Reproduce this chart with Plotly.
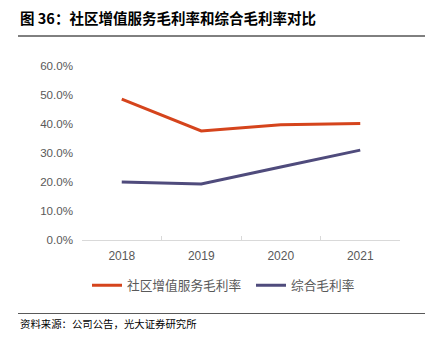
import plotly.graph_objects as go

years = ["2018", "2019", "2020", "2021"]
community_margin = [0.486, 0.376, 0.397, 0.402]
overall_margin = [0.200, 0.193, 0.252, 0.310]
series_names = ["社区增值服务毛利率", "综合毛利率"]
y_ticks = [0, 0.1, 0.2, 0.3, 0.4, 0.5, 0.6]

W, H = 436, 343
L, R, T, B = 82, 36, 66, 103

cjk = "Noto Sans CJK SC"
num = "Liberation Sans, Arial, sans-serif"

def px_x(v):
    return (v - L) / (W - L - R)

def px_y(v):
    return (240 - v) / (240 - 66)

fig = go.Figure()
fig.add_trace(go.Scatter(x=years, y=community_margin, name=series_names[0], mode="lines",
                         line=dict(color="#D5441C", width=3), legend="legend"))
fig.add_trace(go.Scatter(x=years, y=overall_margin, name=series_names[1], mode="lines",
                         line=dict(color="#4F4B7C", width=3), legend="legend2"))

leg_common = dict(orientation="h", xanchor="left", y=px_y(270.5), yanchor="top",
                  font=dict(family=cjk, size=12.7, color="#595959"), itemwidth=30,
                  bgcolor="rgba(0,0,0,0)")

fig.update_layout(
    width=W, height=H,
    margin=dict(l=L, r=R, t=T, b=B, autoexpand=False),
    paper_bgcolor="white", plot_bgcolor="white",
    showlegend=True,
    legend=dict(x=px_x(87), **leg_common),
    legend2=dict(x=px_x(251), **leg_common),
    xaxis=dict(type="category", showline=True, linecolor="#D9D9D9", linewidth=1,
               ticks="inside", ticklen=4, tickcolor="#D9D9D9", tickson="boundaries",
               showgrid=False, tickfont=dict(family=num, size=12, color="#595959"),
               ticklabelstandoff=5, range=[-0.5, 3.5]),
    yaxis=dict(range=[0, 0.6], tickvals=y_ticks, tickformat=".1%", showgrid=False,
               showline=False, zeroline=False, ticks="", ticklabelstandoff=8,
               tickfont=dict(family=num, size=11.6, color="#595959")),
)

fig.add_annotation(text="<b>图 36：社区增值服务毛利率和综合毛利率对比</b>", xref="paper", yref="paper",
                   x=px_x(18), y=px_y(17), xanchor="left", yanchor="middle",
                   showarrow=False, font=dict(family=cjk, size=14.5, color="#000000"))
fig.add_annotation(text="资料来源：公司公告，光大证券研究所", xref="paper", yref="paper",
                   x=px_x(18), y=px_y(323), xanchor="left", yanchor="middle",
                   showarrow=False, font=dict(family=cjk, size=10.4, color="#000000"))

fig.add_shape(type="line", xref="paper", yref="paper", x0=px_x(18), x1=px_x(425),
              y0=px_y(36), y1=px_y(36), line=dict(color="#000000", width=1))
fig.add_shape(type="line", xref="paper", yref="paper", x0=px_x(18), x1=px_x(425),
              y0=px_y(313.5), y1=px_y(313.5), line=dict(color="#595959", width=1))

fig.write_html("out.html")
